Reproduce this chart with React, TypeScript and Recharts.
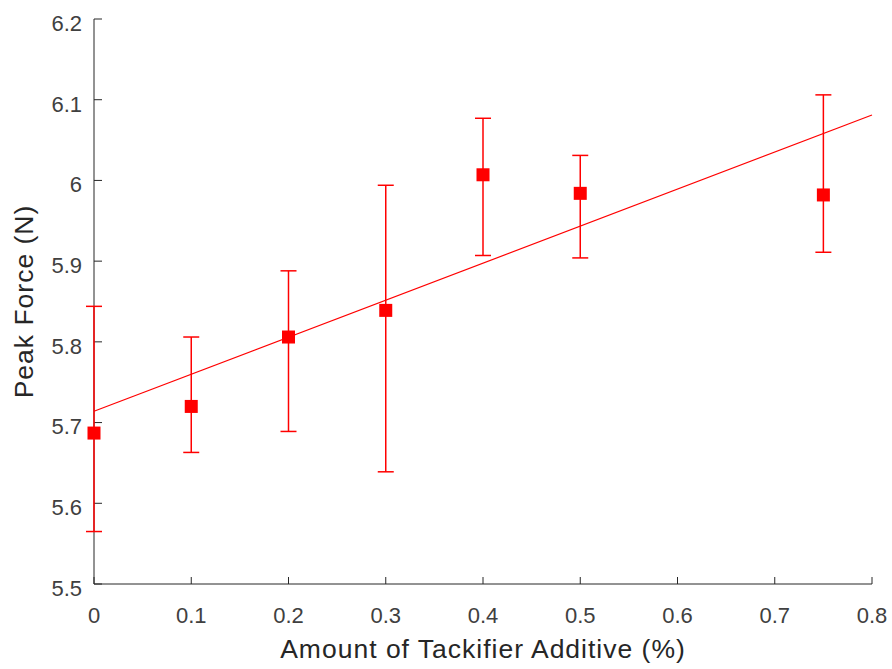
import { ErrorBar, Scatter, ScatterChart, XAxis, YAxis } from "recharts";

// tackifier amount (%)
const amounts = [0, 0.1, 0.2, 0.3, 0.4, 0.5, 0.75];
// mean peak force (N)
const peakForce = [5.687, 5.72, 5.806, 5.839, 6.007, 5.984, 5.982];
// error bar ends
const errLow = [5.565, 5.663, 5.689, 5.639, 5.907, 5.904, 5.911];
const errHigh = [5.844, 5.806, 5.888, 5.994, 6.077, 6.031, 6.106];

// linear fit end points
const fitX = [0, 0.8];
const fitY = [5.714, 6.081];

const xTicks = [0, 0.1, 0.2, 0.3, 0.4, 0.5, 0.6, 0.7, 0.8];
const yTicks = [5.5, 5.6, 5.7, 5.8, 5.9, 6, 6.1, 6.2];

const RED = "#ff0000";
const AXIS = "#262626";
const TEXT = "#404040";

const points = amounts.map((x, i) => ({
  x,
  y: peakForce[i],
  err: [peakForce[i] - errLow[i], errHigh[i] - peakForce[i]],
}));

const fit = fitX.map((x, i) => ({ x, y: fitY[i] }));

const SquareMark = (props: any) => {
  const { cx, cy } = props;
  if (cx == null || cy == null) return <g />;
  return <rect x={cx - 6.5} y={cy - 6.5} width={13} height={13} fill={RED} />;
};

export default function App() {
  return (
    <div style={{ position: "absolute", left: 0, top: 0, background: "#fff" }}>
      <ScatterChart
        width={892}
        height={669}
        margin={{ top: 19, right: 20, left: 0, bottom: 5 }}
        style={{ fontFamily: "Arial, 'Liberation Sans', sans-serif" }}
      >
        <XAxis
          type="number"
          dataKey="x"
          domain={[0, 0.8]}
          ticks={xTicks}
          height={80}
          tickSize={-7}
          tickMargin={30}
          stroke={AXIS}
          tick={{ fontSize: 22, fill: TEXT }}
          label={{
            value: "Amount of Tackifier Additive (%)",
            position: "insideBottom",
            offset: 6,
            fontSize: 26.5,
            fill: AXIS,
            style: { letterSpacing: 1 },
          }}
        />
        <YAxis
          type="number"
          dataKey="y"
          domain={[5.5, 6.2]}
          ticks={yTicks}
          width={94}
          tickSize={-8}
          tickMargin={20}
          stroke={AXIS}
          tick={{ fontSize: 22, fill: TEXT, dy: 4 }}
          label={{
            value: "Peak Force (N)",
            position: "insideLeft",
            angle: -90,
            offset: 24,
            fontSize: 26.5,
            fill: AXIS,
            style: { textAnchor: "middle", letterSpacing: 1 },
          }}
        />
        <Scatter
          data={fit}
          line={{ stroke: RED, strokeWidth: 1.2 }}
          shape={() => <g />}
          isAnimationActive={false}
        />
        <Scatter data={points} shape={SquareMark} isAnimationActive={false}>
          <ErrorBar
            dataKey="err"
            direction="y"
            width={8}
            stroke={RED}
            strokeWidth={1.5}
            zIndex={700}
            isAnimationActive={false}
          />
        </Scatter>
      </ScatterChart>
    </div>
  );
}
